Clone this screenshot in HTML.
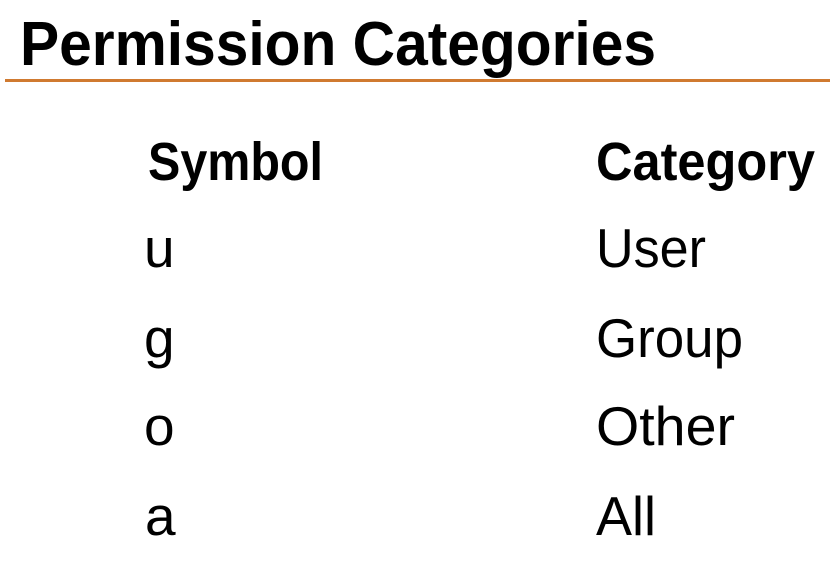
<!DOCTYPE html>
<html><head><meta charset="utf-8"><style>
html,body{margin:0;padding:0;background:#fff;}
svg{display:block;}
text{font-family:"Liberation Sans",sans-serif;fill:#000;}
</style></head><body>
<svg width="830" height="574" viewBox="0 0 830 574">
<text x="20" y="65" font-size="62" font-weight="bold" textLength="636" lengthAdjust="spacingAndGlyphs">Permission Categories</text>
<rect x="5" y="79" width="825" height="3" fill="#d07a30"/>
<text x="148" y="180" font-size="54" font-weight="bold" textLength="175" lengthAdjust="spacingAndGlyphs">Symbol</text>
<text x="596" y="180" font-size="54" font-weight="bold" textLength="219" lengthAdjust="spacingAndGlyphs">Category</text>
<g font-size="55">
<text x="144" y="267">u</text>
<text x="596" y="267" textLength="110" lengthAdjust="spacingAndGlyphs">User</text>
<text x="144" y="357">g</text>
<text x="596" y="357" textLength="147" lengthAdjust="spacingAndGlyphs">Group</text>
<text x="144" y="445">o</text>
<text x="596" y="445" textLength="139" lengthAdjust="spacingAndGlyphs">Other</text>
<text x="145" y="535">a</text>
<text x="596" y="535" textLength="60" lengthAdjust="spacingAndGlyphs">All</text>
</g>
</svg>
</body></html>
